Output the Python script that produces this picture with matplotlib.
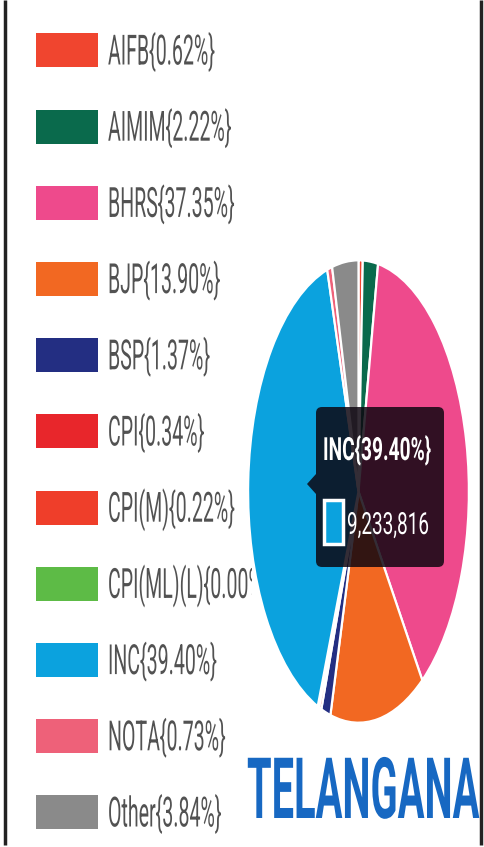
import matplotlib
matplotlib.use("Agg")
import matplotlib.pyplot as plt
from matplotlib import patheffects
from matplotlib.patches import FancyBboxPatch, Polygon, Rectangle
from matplotlib.transforms import Affine2D

# vote share by party (clockwise from 12 o'clock)
parties = ["AIFB", "AIMIM", "BHRS", "BJP", "BSP", "CPI", "CPI(M)",
           "CPI(ML)(L)", "INC", "NOTA", "Other"]
shares = [0.62, 2.22, 37.35, 13.90, 1.37, 0.34, 0.22, 0.00, 39.40, 0.73, 3.84]
colors = ["#f0452f", "#0a6a4c", "#ee4a8c", "#f26822", "#232e82", "#e8262b",
          "#ef3e2a", "#5dbb46", "#0ba2de", "#ee6179", "#8a8a8a"]
tooltip_party = "INC"
tooltip_votes = 9233816
state = "TELANGANA"

W, H = 484, 847
FONT = ["Roboto", "DejaVu Sans"]


class Stretch(patheffects.AbstractPathEffect):
    """Stretch glyphs upward from the baseline (the screenshot is squashed
    horizontally, so its lettering is tall and narrow)."""

    def __init__(self, sy):
        super().__init__()
        self.sy = sy

    def draw_path(self, renderer, gc, tpath, affine, rgbFace=None):
        renderer.draw_path(gc, tpath, Affine2D().scale(1.0, self.sy) + affine, rgbFace)


def tall_text(ax, x, y, s, size, squeeze, **kw):
    # fontsize sets the width; the path effect restores the height
    return ax.text(x, y, s, fontsize=size * squeeze, family=FONT,
                   ha="left", va="baseline",
                   path_effects=[Stretch(1.0 / squeeze)], **kw)


def label(name, pct):
    return f"{name}{{{pct:.2f}%}}"


fig = plt.figure(figsize=(W / 100, H / 100), dpi=100)
fig.patch.set_facecolor("white")

# pie, stretched into an ellipse like the screenshot
ax_pie = fig.add_axes([247 / W, 1 - 725 / H, 223 / W, 467 / H])
ax_pie.pie(shares, colors=colors, startangle=90, counterclock=False,
           wedgeprops=dict(edgecolor="white", linewidth=1.6))
ax_pie.set_aspect("auto")
ax_pie.set_xlim(-1.01, 1.01)
ax_pie.set_ylim(-1.01, 1.01)
ax_pie.axis("off")

# overlay in pixel coordinates
ax = fig.add_axes([0, 0, 1, 1], zorder=5)
ax.set_xlim(0, W)
ax.set_ylim(H, 0)
ax.axis("off")
ax.patch.set_alpha(0)

# frame lines
ax.plot([5, 5], [0, 845], color="#222222", lw=2.5, solid_capstyle="butt")
ax.plot([481, 481], [0, 845], color="#222222", lw=2.5, solid_capstyle="butt")

# legend
row0, step = 50.5, 76.2
for i, (name, pct, col) in enumerate(zip(parties, shares, colors)):
    yc = row0 + i * step
    ax.add_patch(Rectangle((36, yc - 17), 62, 34, facecolor=col, edgecolor="none"))
    t = tall_text(ax, 108, yc + 14, label(name, pct), 30, 0.47, color="#525252")
    # long labels are hidden behind the pie area
    t.set_clip_on(True)
    t.set_clip_path(Rectangle((0, 0), 252, H, transform=ax.transData))

# tooltip
tip_col = (0.05, 0.02, 0.06, 0.84)
ax.add_patch(FancyBboxPatch((316, 407), 128, 160,
                            boxstyle="round,pad=0,rounding_size=6",
                            facecolor=tip_col, edgecolor="none"))
ax.add_patch(Polygon([(316, 474), (307, 484), (316, 494)], closed=True,
                     facecolor=tip_col, edgecolor="none"))
idx = parties.index(tooltip_party)
tall_text(ax, 323, 460, label(tooltip_party, shares[idx]), 23, 0.6,
          fontweight="bold", color="white")
ax.add_patch(Rectangle((324, 500), 19, 44, facecolor=colors[idx],
                       edgecolor="white", linewidth=2.5))
tall_text(ax, 347, 534, f"{tooltip_votes:,}", 22, 0.62, color="white")

# state title
tall_text(ax, 247, 818, state, 61, 0.47, fontweight="bold", color="#1768c2")

fig.savefig("out.png", dpi=100)
